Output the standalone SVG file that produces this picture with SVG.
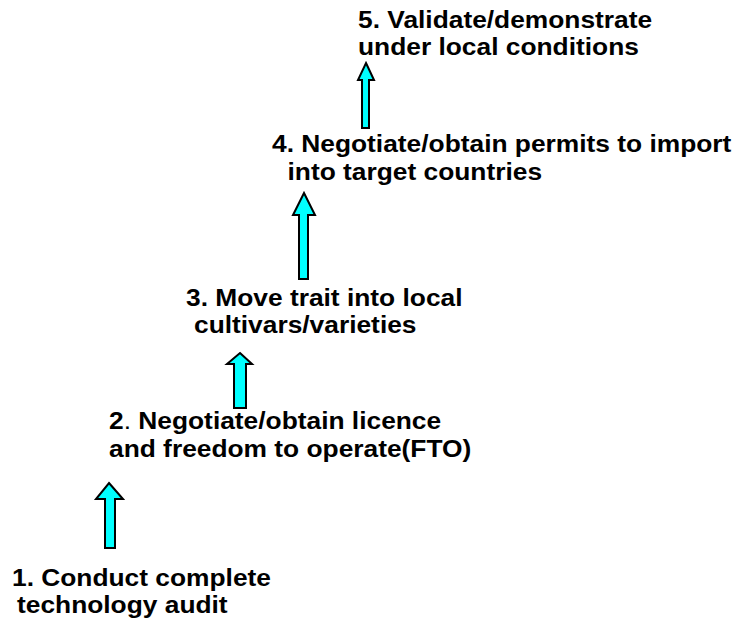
<svg xmlns="http://www.w3.org/2000/svg" width="736" height="622" viewBox="0 0 736 622">
<style>
.t{font-family:"Liberation Sans",Arial,sans-serif;font-weight:bold;font-size:23px;fill:#000}
.n{font-weight:normal}
.a{fill:#00FFFF;stroke:#000;stroke-width:2;stroke-linejoin:miter}
</style>
<rect width="736" height="622" fill="#fff"/>
<g id="connectors">
<path class="a" d="M109,483 L123,499 L115,499 L115,548 L105,548 L105,499 L96,499 Z"/>
<path class="a" d="M240,353 L252,364 L246,364 L246,408 L234,408 L234,364 L227,364 Z"/>
<path class="a" d="M304,193 L315,215 L308,215 L308,279 L299,279 L299,215 L293,215 Z"/>
<path class="a" d="M366,63 L374,80 L369,80 L369,128 L362,128 L362,80 L358,80 Z"/>
</g>
<g id="node1"><text class="t" transform="translate(12,586) scale(1.145,1)">1. Conduct complete</text><text class="t" transform="translate(17,613) scale(1.145,1)">technology audit</text></g>
<g id="node2"><text class="t" transform="translate(109,429) scale(1.145,1)">2<tspan class="n">.</tspan> Negotiate/obtain licence</text><text class="t" transform="translate(109,457) scale(1.145,1)">and freedom to operate(FTO)</text></g>
<g id="node3"><text class="t" transform="translate(186,306) scale(1.145,1)">3. Move trait into local</text><text class="t" transform="translate(194,333) scale(1.145,1)">cultivars/varieties</text></g>
<g id="node4"><text class="t" transform="translate(272,152) scale(1.145,1)">4. Negotiate/obtain permits to import</text><text class="t" transform="translate(287.5,180) scale(1.145,1)">into target countries</text></g>
<g id="node5"><text class="t" transform="translate(358,27.5) scale(1.145,1)">5. Validate/demonstrate</text><text class="t" transform="translate(358,55) scale(1.145,1)">under local conditions</text></g>
</svg>
